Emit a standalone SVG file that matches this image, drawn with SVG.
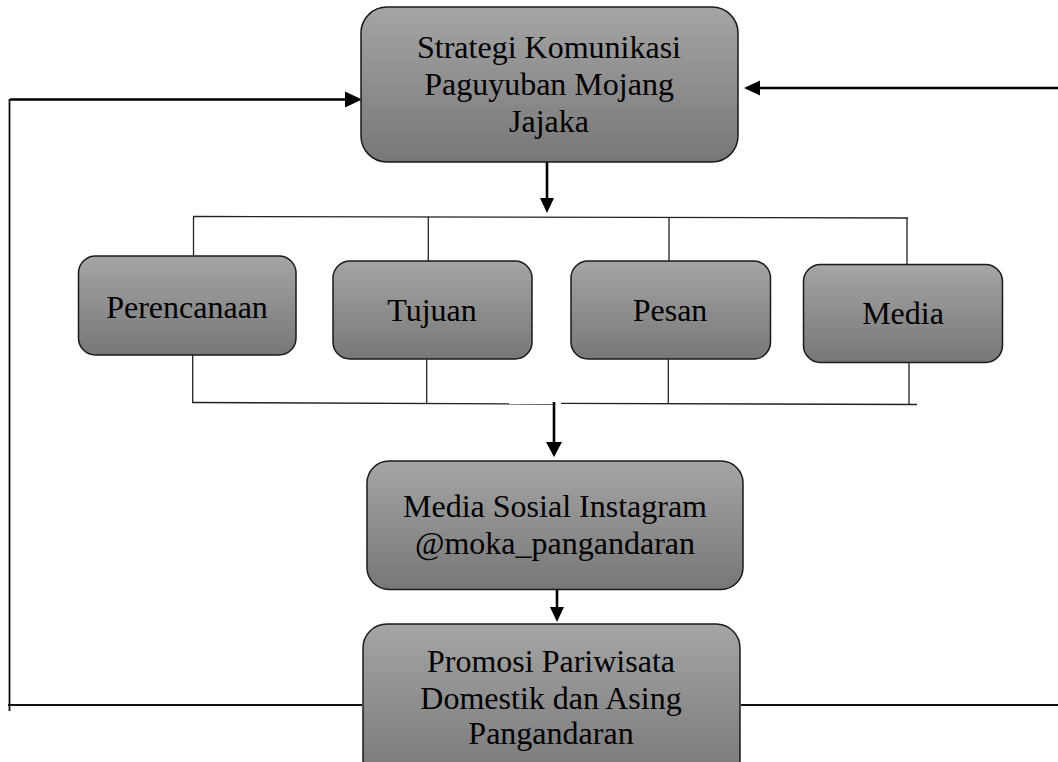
<svg xmlns="http://www.w3.org/2000/svg" width="1058" height="762" viewBox="0 0 1058 762">
<style>
.box{stroke:#1a1a1a;stroke-width:1.5;fill:url(#g)}
.t{font-family:"Liberation Serif","Times New Roman",serif;font-size:32px;fill:#000;text-anchor:middle}
.thin{stroke:#222;stroke-width:1.3;fill:none}
.frame{stroke:#111;stroke-width:1.8;fill:none}
.thick{stroke:#000;stroke-width:2.6;fill:none}
.head{fill:#000}
</style>
<defs>
<linearGradient id="g" x1="0" y1="0" x2="0" y2="1">
<stop offset="0" stop-color="#a5a5a5"/>
<stop offset="1" stop-color="#777777"/>
</linearGradient>
</defs>
<rect width="1058" height="762" fill="#fff"/>
<g id="connectors">
<line class="thick" x1="10" y1="99.5" x2="347" y2="99.5"/>
<polygon class="head" points="345,91.5 362,99.5 345,107.5"/>
<line class="thick" x1="1058" y1="88" x2="758" y2="88"/>
<polygon class="head" points="760,80.5 744,88 760,95.5"/>
<line class="thick" x1="547" y1="162" x2="547" y2="199"/>
<polygon class="head" points="540,198 547,213 554,198"/>
<line class="thick" x1="554" y1="402" x2="554" y2="443"/>
<polygon class="head" points="546,442 554,457 562,442"/>
<line class="thick" x1="557" y1="589" x2="557" y2="608"/>
<polygon class="head" points="550,607 557,622 564,607"/>
<line class="thin" x1="193" y1="216.5" x2="908" y2="218"/>
<line class="thin" x1="193.5" y1="216.5" x2="193.5" y2="256"/>
<line class="thin" x1="428.3" y1="216.7" x2="428.3" y2="261"/>
<line class="thin" x1="669" y1="217.5" x2="669" y2="261"/>
<line class="thin" x1="907" y1="218" x2="907" y2="264"/>
<line class="thin" x1="192.7" y1="355" x2="192.7" y2="402.5"/>
<line class="thin" x1="426.7" y1="359" x2="426.7" y2="403"/>
<line class="thin" x1="668.3" y1="359" x2="668.3" y2="403"/>
<line class="thin" x1="909" y1="362" x2="909" y2="404"/>
<line class="thin" x1="192" y1="402.5" x2="554" y2="404"/>
<line class="thin" x1="561" y1="403.3" x2="917" y2="404.5"/>
<line class="frame" x1="9.5" y1="99" x2="9.5" y2="711"/>
<line class="frame" x1="8" y1="705" x2="362" y2="705"/>
<line class="frame" x1="741" y1="705" x2="1058" y2="705"/>
</g>
<g id="strategi">
<rect class="box" x="361" y="7" width="377" height="155" rx="26"/>
<text class="t" x="549" y="58">Strategi Komunikasi</text>
<text class="t" x="549" y="95">Paguyuban Mojang</text>
<text class="t" x="549" y="132">Jajaka</text>
</g>
<g id="perencanaan">
<rect class="box" x="78.5" y="256" width="217.5" height="99" rx="17"/>
<text class="t" x="187" y="318">Perencanaan</text>
</g>
<g id="tujuan">
<rect class="box" x="333" y="261" width="199" height="98" rx="17"/>
<text class="t" x="432" y="321">Tujuan</text>
</g>
<g id="pesan">
<rect class="box" x="571" y="261" width="199.5" height="98" rx="17"/>
<text class="t" x="670" y="321">Pesan</text>
</g>
<g id="media">
<rect class="box" x="803.5" y="264.5" width="199" height="98" rx="17"/>
<text class="t" x="903" y="324">Media</text>
</g>
<g id="instagram">
<rect class="box" x="367" y="461" width="376" height="128.5" rx="22"/>
<text class="t" x="555" y="517">Media Sosial Instagram</text>
<text class="t" x="555" y="554">@moka_pangandaran</text>
</g>
<g id="promosi">
<rect class="box" x="363" y="624" width="377" height="160" rx="24"/>
<text class="t" x="551" y="672">Promosi Pariwisata</text>
<text class="t" x="551" y="708.5">Domestik dan Asing</text>
<text class="t" x="551" y="744">Pangandaran</text>
</g>
</svg>
